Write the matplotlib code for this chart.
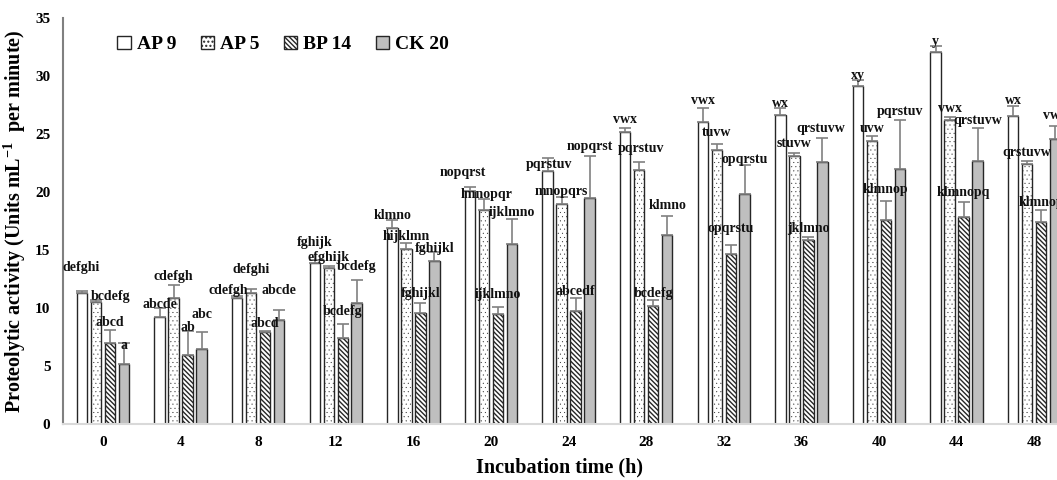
import numpy as np
import matplotlib
matplotlib.use("Agg")
import matplotlib.pyplot as plt

plt.rcParams["font.family"] = ["Liberation Serif", "DejaVu Serif"]
plt.rcParams["font.weight"] = "bold"
plt.rcParams["mathtext.default"] = "regular"

# data
hours = ["0", "4", "8", "12", "16", "20", "24", "28", "32", "36", "40", "44", "48"]
series = ["AP 9", "AP 5", "BP 14", "CK 20"]

ap9 = [11.3, 9.2, 10.9, 13.85, 16.9, 20.1, 21.8, 25.15, 26.0, 26.65, 29.1, 32.05, 26.55]
ap9_err = [0.15, 0.8, 0.15, 0.25, 0.7, 0.3, 1.15, 0.4, 1.2, 0.55, 0.55, 0.5, 0.85]
ap5 = [10.5, 10.9, 11.25, 13.45, 15.1, 18.45, 18.95, 21.9, 23.6, 23.1, 24.4, 26.2, 22.4]
ap5_err = [0.2, 1.1, 0.4, 0.15, 0.5, 0.95, 0.65, 0.7, 0.5, 0.3, 0.4, 0.25, 0.3]
bp14 = [7.0, 5.95, 7.95, 7.45, 9.55, 9.5, 9.75, 10.2, 14.65, 15.85, 17.55, 17.85, 17.4]
bp14_err = [1.1, 2.1, 0.1, 1.2, 0.9, 0.55, 1.1, 0.45, 0.8, 0.3, 1.65, 1.25, 1.05]
ck20 = [5.15, 6.45, 8.95, 10.45, 14.05, 15.5, 19.45, 16.3, 19.85, 22.6, 21.95, 22.65, 24.55]
ck20_err = [1.8, 1.5, 0.9, 1.95, 0.8, 2.15, 3.65, 1.65, 2.45, 2.05, 4.25, 2.9, 1.1]

lab_ap9 = ["defghi", "abcde", "cdefgh", "fghijk", "klmno", "nopqrst", "pqrstuv",
           "vwx", "vwx", "wx", "xy", "y", "wx"]
lab_ap5 = ["bcdefg", "cdefgh", "defghi", "efghijk", "hijklmn", "lmnopqr", "mnopqrs",
           "pqrstuv", "tuvw", "stuvw", "uvw", "vwx", "qrstuvw"]
lab_bp14 = ["abcd", "ab", "abcd", "bcdefg", "fghijkl", "ijklmno", "abcedf",
            "bcdefg", "opqrstu", "jklmno", "klmnop", "klmnopq", "klmnop"]
lab_ck20 = ["a", "abc", "abcde", "bcdefg", "fghijkl", "ijklmno", "nopqrst",
            "klmno", "opqrstu", "qrstuvw", "pqrstuv", "qrstuvw", "vwx"]

# label nudges (pixels above error bar top / sideways), layout only
dy_px = [
    [24, 3, 5, 18, 4, 15, -7, 8, 8, 5, 5, 5, 6],
    [3, 8, 19, 9, 7, 4, 5, 13, 12, 9, 8, 9, 8],
    [8, 3, 7, 12, 9, 13, 7, 7, 16, 8, 12, 10, 7],
    [-2, 17, 19, 14, 3, 7, 10, 10, 6, 10, 9, 7, 11],
]
dx_px = [
    [-1, 0, -9, 0, 0, -7, 1, 0, 0, 0, 0, 0, 0],
    [15, 0, 0, 0, 0, 3, 0, 2, 0, 0, 0, 0, 0],
    [0] * 13,
    [0, 0, 0, 0, 0, 0, 0, 0, 0, -2, 0, 0, 0],
]

vals = [ap9, ap5, bp14, ck20]
errs = [ap9_err, ap5_err, bp14_err, ck20_err]
labs = [lab_ap9, lab_ap5, lab_bp14, lab_ck20]
faces = ["white", "white", "white", "#bfbfbf"]
hatches = [None, "....", "\\\\\\\\\\\\\\", None]
hatch_lw = [1.0, 0.2, 1.0, 1.0]

fig = plt.figure(figsize=(10.57, 4.8), dpi=100)
ax = fig.add_axes([0.0596, 0.1167, 0.9404, 0.8458])

x = np.arange(len(hours))
w = 0.135
step = 0.180
offs = [-1.5, -0.5, 0.5, 1.5]

for i in range(4):
    xi = x + offs[i] * step
    plt.rcParams["hatch.linewidth"] = hatch_lw[i]
    ax.bar(xi, vals[i], w, color=faces[i], edgecolor="#262626", linewidth=1.0,
           hatch=hatches[i], label=series[i], zorder=2)
    ax.errorbar(xi, vals[i], yerr=[np.zeros(len(x)), errs[i]], fmt="none",
                ecolor="#808080", elinewidth=1.2, capsize=4, capthick=1.2, zorder=3)
    for j in range(len(x)):
        ax.annotate(labs[i][j], (xi[j], vals[i][j] + errs[i][j]),
                    xytext=(dx_px[i][j], dy_px[i][j]), textcoords="offset pixels",
                    ha="center", va="center", fontsize=10, fontweight="bold",
                    color="#111111", zorder=4)

ax.set_xlim(-0.515, 12.294)
ax.set_ylim(0, 35)
ax.set_yticks(np.arange(0, 36, 5))
ax.set_xticks(x)
ax.set_xticklabels(hours)
ax.tick_params(axis="both", length=0, labelsize=11)
ax.tick_params(axis="y", pad=9)
ax.tick_params(axis="x", pad=9)
for t in ax.get_xticklabels() + ax.get_yticklabels():
    t.set_fontweight("bold")

for s in ["top", "right"]:
    ax.spines[s].set_visible(False)
ax.spines["left"].set_color("#808080")
ax.spines["left"].set_linewidth(1.5)
ax.spines["bottom"].set_color("#d9d9d9")
ax.spines["bottom"].set_linewidth(1.5)

ax.set_xlabel("Incubation time (h)", fontsize=14.5, fontweight="bold", labelpad=6)
ax.set_ylabel("Proteolytic activity (Units mL$^{-1}$  per minute)", fontsize=14.5,
              fontweight="bold", labelpad=5)

ax.legend(loc="upper left", bbox_to_anchor=(0.037, 1.0), ncol=4, frameon=False,
          prop={"size": 14, "weight": "bold"}, handlelength=0.7, handleheight=0.7,
          handletextpad=0.3, columnspacing=1.25)

fig.savefig("out.png", dpi=100)
